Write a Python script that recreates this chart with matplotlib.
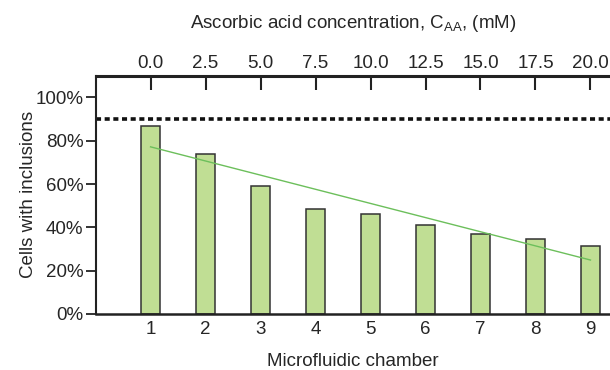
import numpy as np
import matplotlib
matplotlib.use("Agg")
import matplotlib.pyplot as plt

plt.rcParams['font.family'] = ['Liberation Sans', 'DejaVu Sans']

chambers = [1, 2, 3, 4, 5, 6, 7, 8, 9]
inclusions = [87.0, 74.0, 59.3, 48.6, 46.0, 41.2, 37.0, 34.7, 31.5]
reference_level = 90.0
y_ticks = [0, 20, 40, 60, 80, 100]
conc_ticks = [0.0, 2.5, 5.0, 7.5, 10.0, 12.5, 15.0, 17.5, 20.0]

text_color = '#262626'
spine_color = '#222222'
fs = 13.5

fig = plt.figure(figsize=(6.1, 3.7), dpi=100)
ax = fig.add_axes([0.157, 0.1514, 0.843, 0.644])

ax.bar(chambers, inclusions, width=0.355, color='#c0de94',
       edgecolor='#333333', linewidth=1.1, zorder=2)

# linear trend line fitted to the bar values
slope, intercept = np.polyfit(chambers, inclusions, 1)
xs = np.array([chambers[0], chambers[-1]])
ax.plot(xs, slope * xs + intercept, color='#6cbf5b', linewidth=1.0, zorder=3)

ax.axhline(reference_level, color='#111111', linewidth=2.6,
           dashes=(1.4, 1.0), zorder=1)

ax.set_xlim(0.004, 9.355)
ax.set_ylim(0, 110)
ax.set_xticks(chambers)
ax.set_yticks(y_ticks)
ax.set_yticklabels([f"{v}%" for v in y_ticks])
ax.tick_params(axis='x', length=0, pad=5, labelsize=fs, labelcolor=text_color)
ax.tick_params(axis='y', length=7, width=1.3, color=spine_color, pad=2,
               labelsize=fs, labelcolor=text_color)

for side in ['left', 'bottom']:
    ax.spines[side].set_color(spine_color)
ax.spines['left'].set_linewidth(1.5)
ax.spines['bottom'].set_linewidth(1.8)
ax.spines['right'].set_visible(False)
ax.spines['top'].set_linewidth(2.2)
ax.spines['top'].set_color(spine_color)

ax.set_xlabel('Microfluidic chamber', fontsize=fs, color=text_color, labelpad=11)
ax.set_ylabel('Cells with inclusions', fontsize=fs, color=text_color, labelpad=-1)

sec = ax.secondary_xaxis('top', functions=(lambda x: (x - 1) * 2.5,
                                           lambda v: v / 2.5 + 1))
sec.set_xticks(conc_ticks)
sec.set_xticklabels([f"{v:.1f}" for v in conc_ticks])
sec.tick_params(axis='x', direction='in', length=10, width=1.5,
                color=spine_color, pad=3, labelsize=fs, labelcolor=text_color)
sec.spines['top'].set_visible(False)
sec.set_xlabel('Ascorbic acid concentration, C$_{\\mathregular{AA}}$, (mM)',
               fontsize=fs, color=text_color, labelpad=19)

fig.savefig('out.png', dpi=100)
